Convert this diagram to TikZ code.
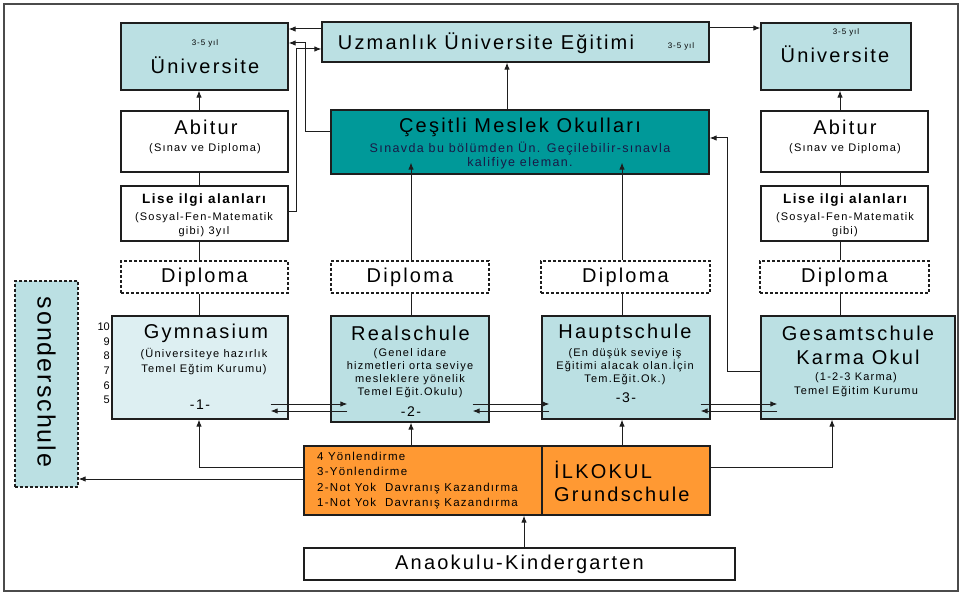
\documentclass[tikz,border=0pt]{standalone}
\usepackage{fontspec}
\usetikzlibrary{arrows.meta}
\setmainfont{Liberation Sans}[LetterSpace=11]
\newfontfamily\plainfont{Liberation Sans}
\newfontfamily\lightspaced{Liberation Sans}[LetterSpace=8]
\definecolor{schoolBlue}{RGB}{187,224,227}
\definecolor{schoolLight}{RGB}{221,239,242}
\definecolor{schoolTeal}{RGB}{0,153,153}
\definecolor{schoolOrange}{RGB}{255,153,51}
\definecolor{schoolLine}{RGB}{30,30,30}
\definecolor{schoolNavy}{RGB}{25,25,70}

\begin{document}
\begin{tikzpicture}[x=1pt, y=-1pt,
  box/.style={draw=schoolLine, line width=1.2pt, inner sep=0pt},
  bluebox/.style={box, fill=schoolBlue},
  dipbox/.style={box, fill=white, densely dashed},
  title/.style={inner sep=0pt, font=\fontsize{20}{24}\selectfont, align=center},
  sub/.style={inner sep=0pt, font=\fontsize{11}{13}\selectfont, align=center},
  yil/.style={inner sep=0pt, font=\fontsize{8}{9}\selectfont},
  link/.style={draw=schoolLine, line width=1pt},
  arr/.style={link, -{Latex[length=7pt, width=5.5pt]}}]

\useasboundingbox (0,0) rectangle (962,596);
\draw [line width=1.2pt, schoolLine!80] (4,4) rectangle (958,591);

% Top row
\node [bluebox, minimum width=167pt, minimum height=67pt] (uniL) at (204.5,56.5) {};
\node [yil] (uniLy) at (205,43) {3-5 yıl};
\node [title] (uniLt) at (205,65) {Üniversite};
\node [bluebox, minimum width=387pt, minimum height=40pt] (uzm) at (515.5,42) {};
\node [title] (uzmt) at (486,43) {Uzmanlık Üniversite Eğitimi};
\node [yil] (uzmy) at (681,46) {3-5 yıl};
\node [bluebox, minimum width=150pt, minimum height=67pt] (uniR) at (836,56.5) {};
\node [yil] (uniRy) at (846,32) {3-5 yıl};
\node [title] (uniRt) at (835,54) {Üniversite};

% Abitur and vocational schools
\node [box, fill=white, minimum width=167pt, minimum height=61pt] (abiL) at (204.5,141.5) {};
\node [title] (abiLt) at (206,127) {Abitur};
\node [sub] (abiLs) at (205,149) {(Sınav ve Diploma)};
\node [box, fill=schoolTeal, minimum width=378pt, minimum height=64pt] (ces) at (520,142) {};
\node [title] (cest) at (520,127) {Çeşitli Meslek Okulları};
\node [sub, font=\fontsize{12.5}{14}\selectfont, schoolNavy] (cess) at (520,156) {Sınavda bu bölümden Ün. Geçilebilir-sınavla\\kalifiye eleman.};
\node [box, fill=white, minimum width=167pt, minimum height=61pt] (abiR) at (844.5,141.5) {};
\node [title] (abiRt) at (845,127) {Abitur};
\node [sub] (abiRs) at (845,149) {(Sınav ve Diploma)};

% Lise
\node [box, fill=white, minimum width=167pt, minimum height=55pt] (liseL) at (204.5,213.5) {};
\node [inner sep=0pt, font=\fontsize{13.5}{15}\selectfont\bfseries] (liseLt) at (204,200) {Lise ilgi alanları};
\node [sub, font=\fontsize{11}{14.5}\selectfont] (liseLs) at (204,224.5) {(Sosyal-Fen-Matematik\\gibi) 3yıl};
\node [box, fill=white, minimum width=167pt, minimum height=55pt] (liseR) at (844.5,213.5) {};
\node [inner sep=0pt, font=\fontsize{13.5}{15}\selectfont\bfseries] (liseRt) at (845,200) {Lise ilgi alanları};
\node [sub, font=\fontsize{11}{14.5}\selectfont] (liseRs) at (845,224.5) {(Sosyal-Fen-Matematik\\gibi)};

% Diplomas
\foreach \n/\x/\w in {dip1/204.5/167, dip2/410/158, dip3/625.5/169, dip4/844.5/169} {
    \node [dipbox, title, minimum width=\w pt, minimum height=32pt] (\n) at (\x,277) {Diploma};
}

% Schools
\node [box, fill=schoolLight, minimum width=176pt, minimum height=103pt] (gym) at (200,367.5) {};
\node [title] (gymt) at (206,333) {Gymnasium};
\node [sub, font=\fontsize{11}{15}\selectfont] (gyms) at (204,361.5) {(Üniversiteye hazırlık\\Temel Eğtim Kurumu)};
\node [title, font=\fontsize{14}{15}\selectfont] (gymn) at (200,405) {-1-};
\node [bluebox, minimum width=158pt, minimum height=106pt] (real) at (410,369) {};
\node [title] (realt) at (410.5,333) {Realschule};
\node [sub] (reals) at (410,373.5) {(Genel idare\\hizmetleri orta seviye\\mesleklere yönelik\\Temel Eğit.Okulu)};
\node [title, font=\fontsize{14}{15}\selectfont] (realn) at (411,412) {-2-};
\node [bluebox, minimum width=168pt, minimum height=103pt] (haupt) at (626,367.5) {};
\node [title] (hauptt) at (625,333) {Hauptschule};
\node [sub] (haupts) at (625,367) {(En düşük seviye iş\\Eğitimi alacak olan.İçin\\Tem.Eğit.Ok.)};
\node [title, font=\fontsize{14}{15}\selectfont] (hauptn) at (626,398) {-3-};
\node [bluebox, minimum width=194pt, minimum height=103pt] (ges) at (858,367.5) {};
\node [title] (gest) at (858,345) {Gesamtschule\\Karma Okul};
\node [sub, font=\fontsize{11}{14}\selectfont] (gess) at (856,385) {(1-2-3 Karma)\\Temel Eğitim Kurumu};
\node [inner sep=0pt, anchor=east, align=right, font=\plainfont\fontsize{11}{14.6}\selectfont] (years) at (110,363.5) {10\\9\\8\\7\\6\\5};

% Sonderschule
\node [box, densely dashed, fill=schoolBlue, minimum width=63pt, minimum height=206pt] (sonder) at (46.5,384) {};
\node [inner sep=0pt, rotate=-90, font=\lightspaced\fontsize{25}{28}\selectfont] (sondert) at (46.5,382) {sonderschule};

% Grundschule
\node [box, fill=schoolOrange, minimum width=238pt, minimum height=69pt] (ilkL) at (423,480.5) {};
\node [inner sep=0pt, anchor=west, align=left, font=\fontsize{11.5}{15.5}\selectfont] (ilkLt) at (317,480.5) {4 Yönlendirme\\3-Yönlendirme\\2-Not Yok~~Davranış Kazandırma\\1-Not Yok~~Davranış Kazandırma};
\node [box, fill=schoolOrange, minimum width=168pt, minimum height=69pt] (ilk) at (626,480.5) {};
\node [title, anchor=west, align=left, font=\fontsize{20}{23}\selectfont] (ilkt) at (554,481.5) {İLKOKUL\\Grundschule};
\node [box, fill=white, title, minimum width=431pt, minimum height=32pt] (ana) at (519.5,564) {Anaokulu-Kindergarten};

% Columns
\coordinate (colL) at (199,0);
\coordinate (colR) at (840,0);
\coordinate (colM) at (507,0);
\coordinate (col2) at (411,0);
\coordinate (col3) at (622,0);
\coordinate (colG) at (832,0);
\coordinate (colA) at (524,0);
\coordinate (bendA) at (305,43);
\coordinate (bendB) at (296,49);
\coordinate (bendC) at (727,138);
\coordinate (swapHi) at (0,404);
\coordinate (swapLo) at (0,411);

% Left and right columns
\foreach \c/\a/\b in {colL/abiL/uniL, colR/abiR/uniR} {
    \draw [arr] (\a.north -| \c) -- (\b.south -| \c);
}
\foreach \c/\a/\b in {colL/liseL/abiL, colL/dip1/liseL, colL/gym/dip1, colR/liseR/abiR, colR/dip4/liseR, colR/ges/dip4} {
    \draw [link] (\a.north -| \c) -- (\b.south -| \c);
}

% Middle columns
\draw [link] (real.north -| col2) -- (dip2.south -| col2);
\draw [arr] (dip2.north -| col2) -- ([yshift=12pt]ces.south -| col2);
\draw [link] (haupt.north -| col3) -- (dip3.south -| col3);
\draw [arr] (dip3.north -| col3) -- ([yshift=12pt]ces.south -| col3);
\draw [arr] (ces.north -| colM) -- (uzm.south -| colM);

% Cross links
\draw [arr] ([yshift=13pt]uzm.west) -- ([yshift=13pt]uzm.west -| uniL.east);
\draw [arr] ([yshift=14pt]uzm.east) -- ([yshift=14pt]uzm.east -| uniR.west);
\draw [arr] ([yshift=10pt]ces.west) -| (bendA) -- (bendA -| uniL.east);
\draw [arr] ([yshift=1.5pt]liseL.east) -| (bendB) -- (bendB -| uzm.west);
\draw [arr] ([yshift=-3.5pt]ges.west) -| (bendC) -- (bendC -| ces.east);

% Transfers between schools
\foreach \a/\b/\s/\t in {gym/real/18/17, real/haupt/17/8, haupt/ges/10/17} {
    \draw [arr] ([xshift=-\s pt]\a.east |- swapHi) -- ([xshift=\t pt]\b.west |- swapHi);
    \draw [arr] ([xshift=\t pt]\b.west |- swapLo) -- ([xshift=-\s pt]\a.east |- swapLo);
}

% From Grundschule
\draw [arr] ([yshift=13.5pt]ilkL.west) -| (gym.south -| colL);
\draw [arr] (ilkL.north -| col2) -- (real.south -| col2);
\draw [arr] (ilk.north -| col3) -- (haupt.south -| col3);
\draw [arr] ([yshift=13.5pt]ilk.east) -| (ges.south -| colG);
\draw [arr] ([yshift=1.5pt]ilkL.west) -- ([yshift=1.5pt]ilkL.west -| sonder.east);
\draw [arr] (ana.north -| colA) -- (ilkL.south -| colA);

\end{tikzpicture}
\end{document}
